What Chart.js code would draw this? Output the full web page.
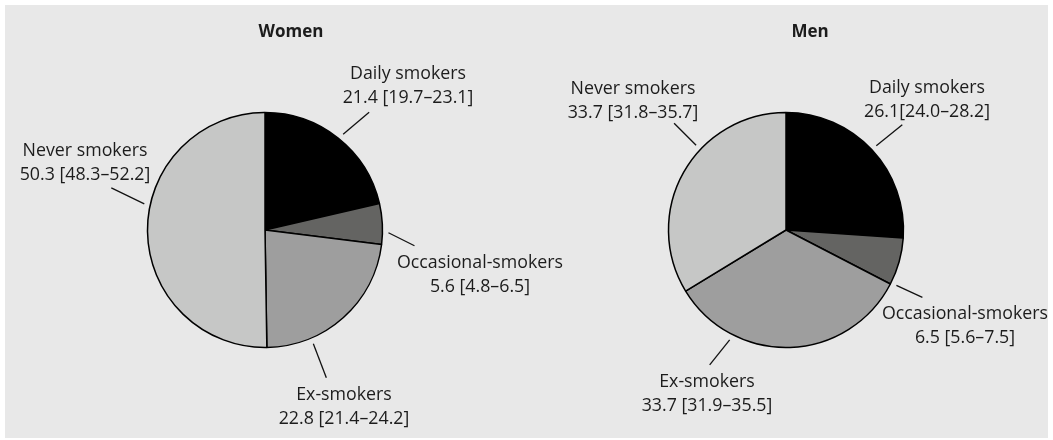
<!DOCTYPE html>
<html>
<head>
<meta charset="utf-8">
<script src="https://cdn.jsdelivr.net/npm/chart.js@4/dist/chart.umd.min.js"></script>
<style>
  body { margin: 0; background: #ffffff; }
  #panel { position: absolute; left: 5px; top: 5px; width: 1043px; height: 433px; background: #e8e8e8; }
  #panel canvas { position: absolute; left: 0; top: 0; }
</style>
</head>
<body>
<div id="panel">
  <canvas id="womenChart" width="1043" height="433"></canvas>
  <canvas id="menChart" width="1043" height="433"></canvas>
</div>
<script>
// smoking status, % with 95% CI
var categories = ["Daily smokers", "Occasional-smokers", "Ex-smokers", "Never smokers"];
var womenValues = [21.4, 5.6, 22.8, 50.3];
var womenLow = [19.7, 4.8, 21.4, 48.3];
var womenHigh = [23.1, 6.5, 24.2, 52.2];
var menValues = [26.1, 6.5, 33.7, 33.7];
var menLow = [24.0, 5.6, 31.9, 31.8];
var menHigh = [28.2, 7.5, 35.5, 35.7];
var sliceColors = ["#000000", "#646462", "#9e9e9e", "#c6c7c6"];

var FONT = "'Open Sans', 'Noto Sans', sans-serif";
var TEXT = "#1c1c1c";

// label placement: leader start as fraction of the slice, leader vector, text centre/baseline from pie centre
var womenLayout = {
  title: "Women", titleDx: 26,
  frac: [0.51, 0.71, 0.73, 0.57],
  leader: [[26, -22], [26, 13], [13, 34], [-33, -16]],
  text: [[143, -151], [215, 38], [79, 170], [-180, -74]]
};
var menLayout = {
  title: "Men", titleDx: 24,
  frac: [0.50, 0.97, 0.74, 0.615],
  leader: [[26, -21], [26, 12], [-20, 25], [-22, -22]],
  text: [[141, -137], [179, 89], [-79, 157], [-153, -136]]
};

function ciText(v, lo, hi, gap) {
  return v.toFixed(1) + gap + "[" + lo.toFixed(1) + "\u2013" + hi.toFixed(1) + "]";
}

var labelPlugin = {
  id: "pieLabels",
  afterDraw: function(chart) {
    var o = chart.options.plugins.pieLabels;
    var ctx = chart.ctx;
    var arcs = chart.getDatasetMeta(0).data;
    var cx = arcs[0].x, cy = arcs[0].y;
    ctx.save();
    ctx.fillStyle = TEXT;
    ctx.textAlign = "center";
    ctx.textBaseline = "alphabetic";
    ctx.font = "bold 17px " + FONT;
    ctx.fillText(o.layout.title, cx + o.layout.titleDx, 32);
    ctx.font = "17.8px " + FONT;
    ctx.strokeStyle = "#111111";
    ctx.lineWidth = 1.3;
    for (var i = 0; i < arcs.length; i++) {
      var p = arcs[i].getProps(["startAngle", "endAngle", "outerRadius"], true);
      var a = p.startAngle + o.layout.frac[i] * (p.endAngle - p.startAngle);
      var r1 = p.outerRadius + 6;
      var x1 = cx + r1 * Math.cos(a), y1 = cy + r1 * Math.sin(a);
      ctx.beginPath();
      ctx.moveTo(x1, y1);
      ctx.lineTo(x1 + o.layout.leader[i][0], y1 + o.layout.leader[i][1]);
      ctx.stroke();
      var tx = cx + o.layout.text[i][0], ty = cy + o.layout.text[i][1];
      ctx.fillText(categories[i], tx, ty);
      ctx.fillText(ciText(o.values[i], o.low[i], o.high[i], o.gaps[i]), tx, ty + 23.5);
    }
    ctx.restore();
  }
};

function makePie(id, values, low, high, layout, gaps, padding) {
  return new Chart(document.getElementById(id), {
    type: "pie",
    data: {
      labels: categories,
      datasets: [{
        data: values,
        backgroundColor: sliceColors,
        borderColor: "#000000",
        borderWidth: 1.5,
        hoverOffset: 0
      }]
    },
    options: {
      responsive: false,
      animation: false,
      events: [],
      layout: { padding: padding },
      plugins: {
        legend: { display: false },
        tooltip: { enabled: false },
        title: { display: false },
        pieLabels: { layout: layout, values: values, low: low, high: high, gaps: gaps }
      }
    },
    plugins: [labelPlugin]
  });
}

makePie("womenChart", womenValues, womenLow, womenHigh, womenLayout, [" ", " ", " ", " "],
  { left: 141.75, right: 664.75, top: 106.75, bottom: 89.75 });
makePie("menChart", menValues, menLow, menHigh, menLayout, ["", " ", " ", " "],
  { left: 662.75, right: 143.75, top: 106.75, bottom: 89.75 });
</script>
</body>
</html>
